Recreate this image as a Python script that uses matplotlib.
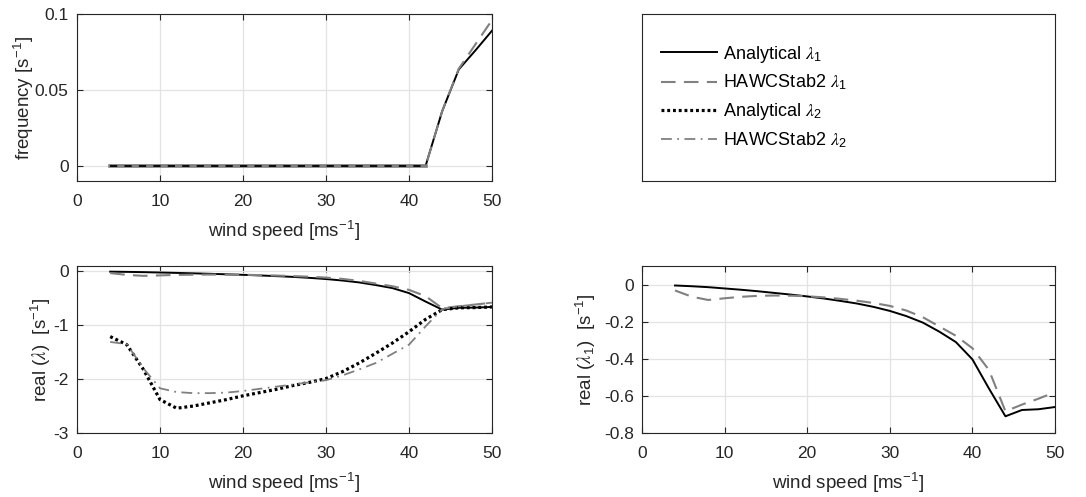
import numpy as np
import matplotlib
matplotlib.use("Agg")
import matplotlib.pyplot as plt

plt.rcParams['font.family'] = ['Liberation Sans', 'DejaVu Sans']
plt.rcParams['mathtext.fontset'] = 'custom'
plt.rcParams['mathtext.rm'] = 'Liberation Sans'
plt.rcParams['mathtext.it'] = 'STIXGeneral:italic'
plt.rcParams['axes.unicode_minus'] = False

# wind speeds [m/s]
ws = [4, 6, 8, 10, 12, 14, 16, 18, 20, 22, 24, 26, 28, 30,
      32, 34, 36, 38, 40, 42, 44, 46, 48, 50]

# real part of eigenvalues
re_an1 = [-0.005, -0.009, -0.014, -0.021, -0.028, -0.036, -0.045, -0.054,
          -0.064, -0.075, -0.088, -0.102, -0.120, -0.142, -0.170, -0.205,
          -0.254, -0.310, -0.403, -0.560, -0.710, -0.676, -0.672, -0.660]
re_hs1 = [-0.032, -0.065, -0.083, -0.074, -0.066, -0.061, -0.059, -0.060,
          -0.063, -0.069, -0.077, -0.087, -0.099, -0.115, -0.140, -0.176,
          -0.226, -0.276, -0.343, -0.460, -0.683, -0.647, -0.615, -0.580]
re_an2 = [-1.21, -1.36, -1.82, -2.38, -2.54, -2.50, -2.44, -2.38,
          -2.31, -2.25, -2.19, -2.12, -2.06, -1.99, -1.86, -1.70,
          -1.52, -1.33, -1.12, -0.89, -0.71, -0.676, -0.672, -0.660]
re_hs2 = [-1.31, -1.35, -1.80, -2.17, -2.24, -2.26, -2.26, -2.25,
          -2.22, -2.18, -2.14, -2.10, -2.06, -2.02, -1.93, -1.82,
          -1.70, -1.53, -1.36, -1.02, -0.70, -0.647, -0.615, -0.580]

# frequency (imag part)
fr_an1 = [0, 0, 0, 0, 0, 0, 0, 0, 0, 0, 0, 0, 0, 0, 0, 0, 0, 0, 0, 0,
          0.036, 0.0635, 0.076, 0.089]
fr_hs1 = [0, 0, 0, 0, 0, 0, 0, 0, 0, 0, 0, 0, 0, 0, 0, 0, 0, 0, 0, 0,
          0.036, 0.064, 0.080, 0.096]
fr_2 = [0, 0, 0, 0, 0, 0, 0, 0, 0, 0, 0, 0, 0, 0, 0, 0, 0, 0, 0, 0,
        np.nan, np.nan, np.nan, np.nan]

labels = [r'Analytical $\lambda_{\mathrm{1}}$', r'HAWCStab2 $\lambda_{\mathrm{1}}$',
          r'Analytical $\lambda_{\mathrm{2}}$', r'HAWCStab2 $\lambda_{\mathrm{2}}$']

xticks = [0, 10, 20, 30, 40, 50]
yt_freq = [0, 0.05, 0.1]
yt_freq_lbl = ['0', '0.05', '0.1']
yt_re = [-3, -2, -1, 0]
yt_re1 = [-0.8, -0.6, -0.4, -0.2, 0]
yt_re1_lbl = ['-0.8', '-0.6', '-0.4', '-0.2', '0']

dark = '#262626'
gray = '#808080'
fs = 12.5
fl = 13.5

sty_an1 = dict(color='black', lw=1.4, linestyle='-')
sty_hs1 = dict(color=gray, lw=1.5, linestyle=(0, (7, 4)))
sty_an2 = dict(color='black', lw=2.3, linestyle=(0, (0.9, 0.9)))
sty_hs2 = dict(color=gray, lw=1.3, linestyle=(0, (6, 3, 1, 3)))

W, H = 1086, 497
fig = plt.figure(figsize=(W / 100, H / 100), dpi=100)


def box(x0, x1, y0, y1):
    return [x0 / W, 1 - y1 / H, (x1 - x0) / W, (y1 - y0) / H]


def style_axes(ax):
    ax.set_xlim(0, 50)
    ax.set_xticks(xticks)
    ax.grid(True, color='#e3e3e3', lw=0.9)
    ax.set_axisbelow(True)
    ax.tick_params(direction='in', top=True, right=True, length=4,
                   width=0.8, colors=dark, labelsize=fs)
    ax.tick_params(axis='x', pad=9)
    ax.tick_params(axis='y', pad=6)
    for s in ax.spines.values():
        s.set_color(dark)
        s.set_linewidth(0.8)
    ax.set_xlabel(r'wind speed [ms$^{\mathrm{-1}}$]', fontsize=fl, color=dark, labelpad=7)


ax1 = fig.add_axes(box(77, 492, 14, 181))
ax1.plot(ws, fr_an1, **sty_an1)
ax1.plot(ws, fr_hs1, **sty_hs1)
ax1.plot(ws, fr_2, color=gray, lw=2.6)
ax1.plot(ws, fr_2, color='black', lw=1.3, linestyle=(0, (4, 4)))
ax1.set_ylim(-0.01, 0.1)
ax1.set_yticks(yt_freq, yt_freq_lbl)
style_axes(ax1)
ax1.set_ylabel(r'frequency [s$^{\mathrm{-1}}$]', fontsize=fl, color=dark, labelpad=-1)

ax2 = fig.add_axes(box(77, 492, 266, 433))
l1, = ax2.plot(ws, re_an1, **sty_an1)
l2, = ax2.plot(ws, re_hs1, **sty_hs1)
l3, = ax2.plot(ws, re_an2, **sty_an2)
l4, = ax2.plot(ws, re_hs2, **sty_hs2)
ax2.set_ylim(-3, 0.1)
ax2.set_yticks(yt_re)
style_axes(ax2)
ax2.set_ylabel(r'real ($\lambda$)  [s$^{\mathrm{-1}}$]', fontsize=fl, color=dark, labelpad=0)

ax3 = fig.add_axes(box(642, 1055, 266, 433))
ax3.plot(ws, re_an1, **sty_an1)
ax3.plot(ws, re_hs1, **sty_hs1)
ax3.set_ylim(-0.8, 0.1)
ax3.set_yticks(yt_re1, yt_re1_lbl)
style_axes(ax3)
ax3.set_ylabel(r'real ($\lambda_{\mathrm{1}}$)  [s$^{\mathrm{-1}}$]', fontsize=fl, color=dark, labelpad=4.5)

# legend box in the top-right slot
axl = fig.add_axes(box(642, 1055, 14, 181))
axl.set_xticks([])
axl.set_yticks([])
for s in axl.spines.values():
    s.set_color(dark)
    s.set_linewidth(0.8)
axl.legend([l1, l2, l3, l4], labels, loc='center left',
           bbox_to_anchor=(0.045, 0.505), frameon=False, fontsize=13,
           handlelength=3.15, handletextpad=0.3, labelspacing=0.47,
           borderpad=0, borderaxespad=0)

fig.savefig('out.png', dpi=100)
